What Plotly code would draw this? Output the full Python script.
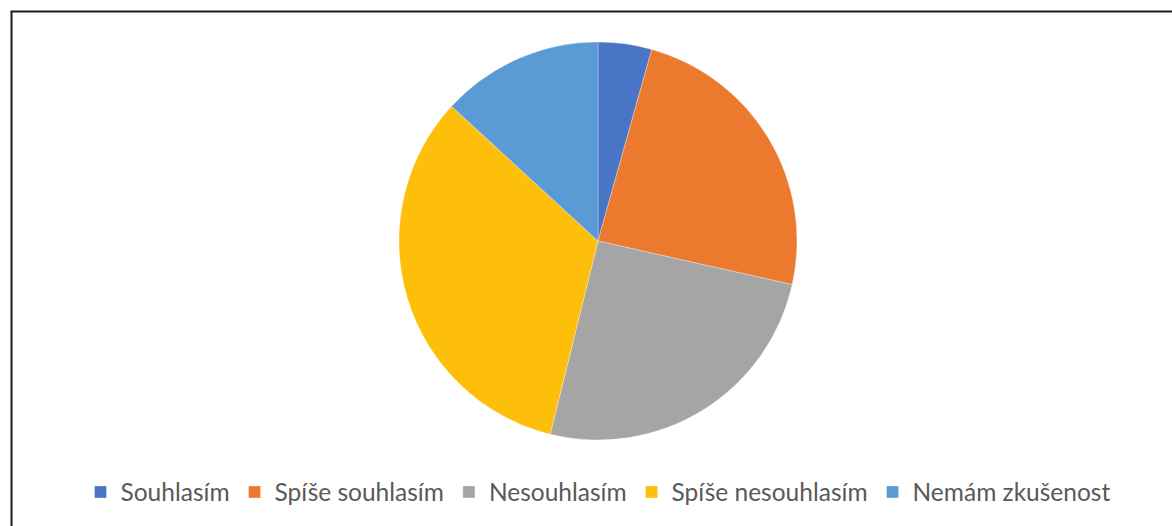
import plotly.graph_objects as go

labels = ["Souhlasím", "Spíše souhlasím", "Nesouhlasím", "Spíše nesouhlasím", "Nemám zkušenost"]
values = [4.4, 24.4, 25.6, 33.3, 13.3]
colors = ["#4A74C6", "#EC7A2E", "#A5A5A5", "#FDBF0A", "#5B9BD5"]

W, H = 1172, 526
cx, cy, r = 598, 241, 199

fig = go.Figure(go.Pie(
    labels=labels, values=values, sort=False, direction="clockwise", rotation=0,
    marker=dict(colors=colors, line=dict(color="white", width=0.3)),
    textinfo="none", hoverinfo="label+percent",
    domain=dict(x=[(cx - r) / W, (cx + r) / W], y=[1 - (cy + r) / H, 1 - (cy - r) / H]),
))

fig.update_layout(
    width=W, height=H,
    margin=dict(l=0, r=0, t=0, b=0),
    paper_bgcolor="white",
    font=dict(family="Lato, 'Open Sans', sans-serif", color="#595959", size=24.5),
    showlegend=True,
    legend=dict(orientation="h", x=598 / W, xanchor="center", y=1 - 492 / H, yanchor="middle",
                font=dict(size=24.5, color="#595959"), traceorder="normal"),
    shapes=[dict(type="rect", xref="paper", yref="paper",
                 x0=11.5 / W, x1=1.05, y0=-0.05, y1=1 - 11.5 / H,
                 line=dict(color="#1a1a1a", width=2), fillcolor="rgba(0,0,0,0)")],
)

fig.write_html("out.html", config={"displayModeBar": False},
               post_script="document.body.style.margin='0';")
